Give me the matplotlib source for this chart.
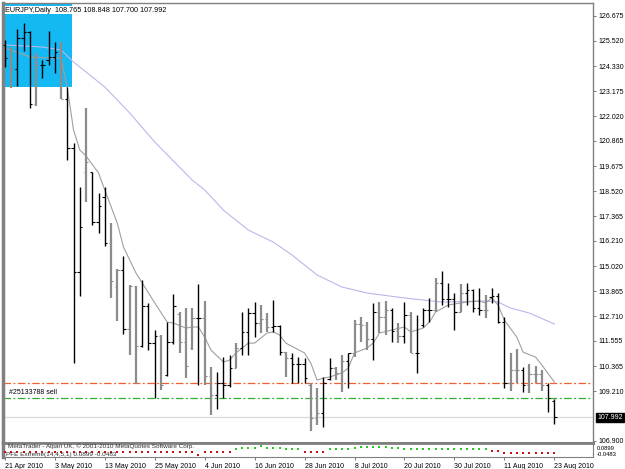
import numpy as np
import matplotlib.pyplot as plt
from matplotlib.patches import Rectangle
import matplotlib.transforms as mtransforms

plt.rcParams['font.family'] = ['Liberation Sans', 'DejaVu Sans']

# daily EURJPY bars, 21 Apr 2010 .. 23 Aug 2010
opens = [125.33, 124.72, 124.21, 125.65, 125.93, 122.58, 124.39, 124.63, 124.77, 125.00,
         122.81, 120.53, 114.76, 119.41, 119.41, 117.09, 118.25, 116.11, 114.06, 114.85,
         112.10, 114.11, 111.31, 113.18, 111.45, 111.78, 109.96, 111.50, 112.80, 111.50,
         111.20, 112.60, 112.60, 109.90, 109.03, 109.60, 109.50, 110.30, 111.20, 111.97,
         112.85, 112.38, 112.57, 112.20, 112.24, 111.03, 110.75, 110.50, 110.50, 109.50,
         107.96, 108.20, 109.80, 110.29, 110.06, 110.60, 110.99, 112.34, 112.30, 111.64,
         112.90, 112.66, 113.00, 112.01, 111.80, 112.76, 110.99, 112.30, 113.00, 113.00,
         114.25, 113.50, 113.50, 112.90, 113.80, 113.92, 113.10, 113.00, 113.60, 113.64,
         112.43, 109.59, 110.20, 110.20, 109.50, 110.00, 110.00, 109.50, 108.765]
highs = [125.56, 125.23, 126.07, 126.35, 125.98, 124.95, 124.63, 125.98, 125.47, 125.47,
         123.37, 120.76, 118.72, 122.39, 119.41, 118.44, 118.72, 117.04, 114.90, 115.50,
         114.15, 114.11, 114.39, 113.30, 112.06, 111.83, 112.43, 113.74, 112.90, 113.08,
         113.08, 114.20, 113.41, 110.34, 110.10, 110.80, 110.89, 111.45, 112.90, 113.08,
         113.36, 113.22, 112.85, 113.45, 112.29, 111.03, 110.99, 110.80, 110.75, 109.59,
         109.36, 109.87, 110.75, 110.34, 110.89, 110.99, 112.52, 112.66, 112.43, 113.32,
         113.36, 113.41, 113.08, 112.38, 113.36, 112.90, 112.76, 113.08, 113.55, 114.48,
         114.81, 114.25, 113.78, 114.20, 114.25, 113.97, 114.01, 113.69, 114.01, 113.78,
         112.66, 110.99, 111.17, 110.34, 110.48, 110.38, 110.20, 109.59, 108.848]
lows = [124.30, 123.32, 123.42, 125.05, 122.39, 122.49, 123.79, 124.39, 124.02, 122.81,
        119.97, 110.52, 113.64, 118.02, 116.95, 116.58, 115.97, 113.55, 112.48, 111.87,
        110.89, 109.54, 111.27, 111.13, 108.89, 109.27, 109.92, 111.41, 110.99, 109.82,
        111.13, 109.50, 109.50, 108.10, 108.38, 108.89, 109.41, 110.29, 110.89, 110.89,
        111.73, 111.92, 111.97, 111.97, 110.89, 109.87, 109.59, 109.59, 109.59, 107.36,
        107.64, 107.54, 109.73, 109.73, 109.17, 109.36, 110.80, 111.50, 111.13, 110.66,
        111.92, 111.83, 111.50, 111.45, 111.45, 110.99, 110.06, 112.20, 112.43, 112.90,
        113.22, 113.13, 112.06, 112.90, 113.22, 112.90, 112.76, 112.62, 113.32, 112.38,
        109.36, 109.22, 109.59, 109.17, 109.13, 109.59, 109.22, 108.24, 107.700]
closes = [124.72, 124.21, 125.65, 125.93, 122.58, 124.39, 124.39, 124.77, 125.00, 122.81,
          120.53, 114.76, 116.85, 119.88, 117.09, 117.83, 116.11, 114.34, 114.85, 112.10,
          114.11, 111.31, 113.18, 111.45, 111.78, 109.50, 111.50, 113.20, 111.50, 110.40,
          112.60, 112.62, 109.90, 109.03, 109.60, 109.50, 110.30, 111.20, 111.97, 112.85,
          112.38, 112.57, 112.20, 112.24, 111.03, 110.75, 110.50, 110.50, 109.82, 107.96,
          108.20, 109.60, 110.29, 110.06, 110.60, 110.99, 112.34, 112.30, 111.64, 112.90,
          112.66, 113.00, 112.01, 111.80, 112.76, 110.99, 111.00, 113.00, 113.00, 114.25,
          113.50, 113.50, 112.90, 113.80, 113.92, 113.10, 113.00, 113.00, 113.64, 112.43,
          109.59, 110.20, 110.20, 109.50, 110.00, 110.00, 109.50, 108.89, 107.992]
bar_kind = ("kgkkkgkkkg" "kkkgkkkggk" "ggkkkgkkgg" "gkggkkkgkk" "kggkkgkkkg"
            "gkkggkgggk" "ggkgkgkkkg" "kkkgkkkgkk" "kggkgggkk")

# moving averages (bar index, value)
fast_idx = [0, 4, 7, 9, 10, 11, 12, 13, 15, 16, 18, 19, 21, 22, 24, 26, 27, 29, 30, 31,
            32, 33, 35, 36, 37, 39, 40, 42, 43, 44, 45, 48, 49, 50, 51, 52, 54, 55, 56, 58,
            59, 60, 62, 64, 65, 67, 68, 69, 71, 73, 74, 76, 77, 78, 79, 80, 82, 83, 85, 86, 88]
fast_ma = [125.19, 124.77, 124.72, 124.72, 123.32, 121.37, 120.44, 120.16, 119.37, 118.58,
           117.04, 115.92, 114.71, 114.25, 113.32, 112.43, 112.38, 112.15, 112.20, 112.20,
           111.73, 111.13, 110.57, 110.66, 110.99, 111.45, 111.45, 111.92, 111.97, 111.83,
           111.45, 110.99, 110.52, 109.73, 109.82, 109.87, 110.06, 110.29, 110.99, 111.22,
           111.45, 111.92, 112.06, 112.20, 111.97, 112.15, 112.43, 112.90, 113.22, 113.32,
           113.36, 113.41, 113.32, 113.55, 113.22, 112.52, 111.73, 111.03, 110.80, 110.43, 109.64]
slow_idx = [0, 6, 9, 11, 13, 16, 20, 24, 30, 32, 35, 39, 43, 46, 50, 54, 58, 64, 70, 77,
            79, 81, 84, 88]
slow_ma = [125.33, 125.23, 125.09, 124.53, 124.07, 123.37, 122.16, 120.81, 119.04, 118.58,
           117.64, 116.71, 116.15, 115.55, 114.62, 114.06, 113.78, 113.55, 113.36, 113.41,
           113.36, 113.08, 112.85, 112.34]

price_ticks = [126.675, 125.520, 124.330, 123.175, 122.020, 120.865, 119.675, 118.520,
               117.365, 116.210, 115.020, 113.865, 112.710, 111.555, 110.365, 109.210, 106.900]
date_idx = [0, 8, 16, 24, 32, 40, 48, 56, 64, 72, 80, 88]
date_labels = ['21 Apr 2010', '3 May 2010', '13 May 2010', '25 May 2010', '4 Jun 2010',
               '16 Jun 2010', '28 Jun 2010', '8 Jul 2010', '20 Jul 2010', '30 Jul 2010',
               '11 Aug 2010', '23 Aug 2010']

stop_level = 109.59
order_level = 108.89
last_close = 107.992
box_x = (-1.0, 10.7)
box_y = (123.37, 127.6)

# PFE Extreme sub window dots (bar index, value)
pfe_idx = list(range(0, 89))
pfe_val = [-0.3, -0.3, -0.3, -0.3, -0.3, -0.3, -0.3, -0.3, -0.3, -0.3,
           -0.3, -0.3, -0.3, -0.3, -0.3, -0.3, -0.3, -0.3, -0.3, -0.3,
           -0.3, -0.3, -0.3, -0.3, -0.3, -0.3, -0.3, -0.3, -0.3, -0.3,
           -0.3, -0.9, -0.3, -0.3, -0.3, -0.3, -0.3, 0.3, 0.5, 0.5,
           0.5, 0.9, 0.5, 0.5, 0.5, 0.2, 0.2, 0.2, -0.3, -0.3,
           -0.3, -0.3, 0.2, 0.2, 0.2, 0.3, 0.5, 0.6, 0.6, 0.6,
           0.6, 0.6, 0.5, 0.5, 0.2, 0.2, 0.2, 0.2, 0.2, 0.2,
           0.2, 0.2, 0.2, 0.2, 0.2, 0.2, 0.2, 0.2, -0.2, -0.2,
           -0.5, -0.5, -0.5, -0.5, -0.5, -0.5, -0.5, -0.5, -0.5]
pfe_last = '0.0899'
pfe_prev = '-0.0483'

W, H = 625, 469
fig = plt.figure(figsize=(W / 100, H / 100), dpi=100)
fig.patch.set_facecolor('white')
ax = fig.add_axes([3 / W, 1 - 443 / H, 590 / W, 440 / H])
ax2 = fig.add_axes([3 / W, 1 - 457 / H, 590 / W, 14 / H], sharex=ax)

x = np.arange(len(closes))
ax.add_patch(Rectangle((box_x[0], box_y[0]), box_x[1] - box_x[0], box_y[1] - box_y[0],
                       facecolor='#14b8f2', edgecolor='none', zorder=0))

ax.plot(slow_idx, slow_ma, color='#b8b8ec', lw=0.8, zorder=2)
ax.plot(fast_idx, fast_ma, color='#a0a0a0', lw=0.8, zorder=2)

for i in x:
    c = '#000000' if bar_kind[i] == 'k' else '#8c8c8c'
    w = 1.0 if bar_kind[i] == 'k' else 1.6
    ax.vlines(i, lows[i], highs[i], color=c, lw=w, zorder=3)
    ax.hlines(opens[i], i - 0.38, i, color=c, lw=0.8, zorder=3)
    ax.hlines(closes[i], i, i + 0.38, color=c, lw=0.8, zorder=3)

ax.axhline(stop_level, color='#f0602a', lw=0.9, ls=(0, (6, 2, 1.5, 2)), zorder=1)
ax.axhline(order_level, color='#30b030', lw=0.9, ls=(0, (6, 2, 1.5, 2)), zorder=1)
ax.axhline(last_close, color='#d8d8d8', lw=0.9, zorder=1)
ax.text(0.6, order_level + 0.12, '#25133788 sell', fontsize=5, va='bottom', ha='left')

ax.set_xlim(-0.3, 94.2)
ax.set_ylim(106.80, 127.28)
ax.yaxis.tick_right()
ax.set_yticks(price_ticks)
ax.set_yticklabels(['%.3f' % p for p in price_ticks])
ax.tick_params(axis='y', length=2, width=0.6, color='#606060', labelsize=5, pad=2)
ax.tick_params(axis='x', bottom=False, labelbottom=False)
for s in ax.spines.values():
    s.set_color('#808080')
ax.spines['left'].set_linewidth(2.5)
ax.spines['bottom'].set_linewidth(2.0)
ax.spines['top'].set_linewidth(1.0)
ax.spines['right'].set_linewidth(1.0)

tr = mtransforms.blended_transform_factory(ax.transAxes, ax.transData)
ax.text(1.007, last_close, '107.992', transform=tr, fontsize=5, color='white',
        va='center', ha='left',
        bbox=dict(boxstyle='square,pad=0.15', facecolor='black', edgecolor='black'))

ax.text(0.004, 0.992, 'EURJPY,Daily  108.765 108.848 107.700 107.992', transform=ax.transAxes,
        fontsize=5.2, va='top', ha='left',
        bbox=dict(boxstyle='square,pad=0.1', facecolor='white', edgecolor='none'))

# sub window
pv = np.array(pfe_val)
pi = np.array(pfe_idx)
ax2.scatter(pi[pv > 0], pv[pv > 0], s=3, marker='s', color='#22cc22', lw=0, zorder=3)
ax2.scatter(pi[pv < 0], pv[pv < 0], s=3, marker='s', color='#cc1111', lw=0, zorder=3)
ax2.set_ylim(-1.4, 1.4)
ax2.set_yticks([])
ax2.text(0.005, 0.02, 'PFE Extreme(14,4,5,1) 0.0899 -0.0483', transform=ax2.transAxes,
         fontsize=4.6, va='bottom', ha='left', color='#303030')
ax2.text(0.008, 0.98, 'MetaTrader - Alpari UK, \u00a9 2001-2010 MetaQuotes Software Corp.',
         transform=ax2.transAxes, fontsize=4.6, va='top', ha='left', color='#303030')
ax2.text(1.007, 0.62, pfe_last, transform=ax2.transAxes, fontsize=4.2, va='center', ha='left')
ax2.text(1.007, 0.0, pfe_prev, transform=ax2.transAxes, fontsize=4.2, va='bottom', ha='left')
for s in ax2.spines.values():
    s.set_color('#808080')
ax2.spines['top'].set_linewidth(2.0)
ax2.spines['left'].set_linewidth(2.5)
ax2.set_xticks(date_idx)
ax2.set_xticklabels(date_labels, ha='left')
ax2.tick_params(axis='x', length=2, width=0.6, color='#606060', labelsize=5, pad=2)

fig.savefig('out.png', dpi=100)
